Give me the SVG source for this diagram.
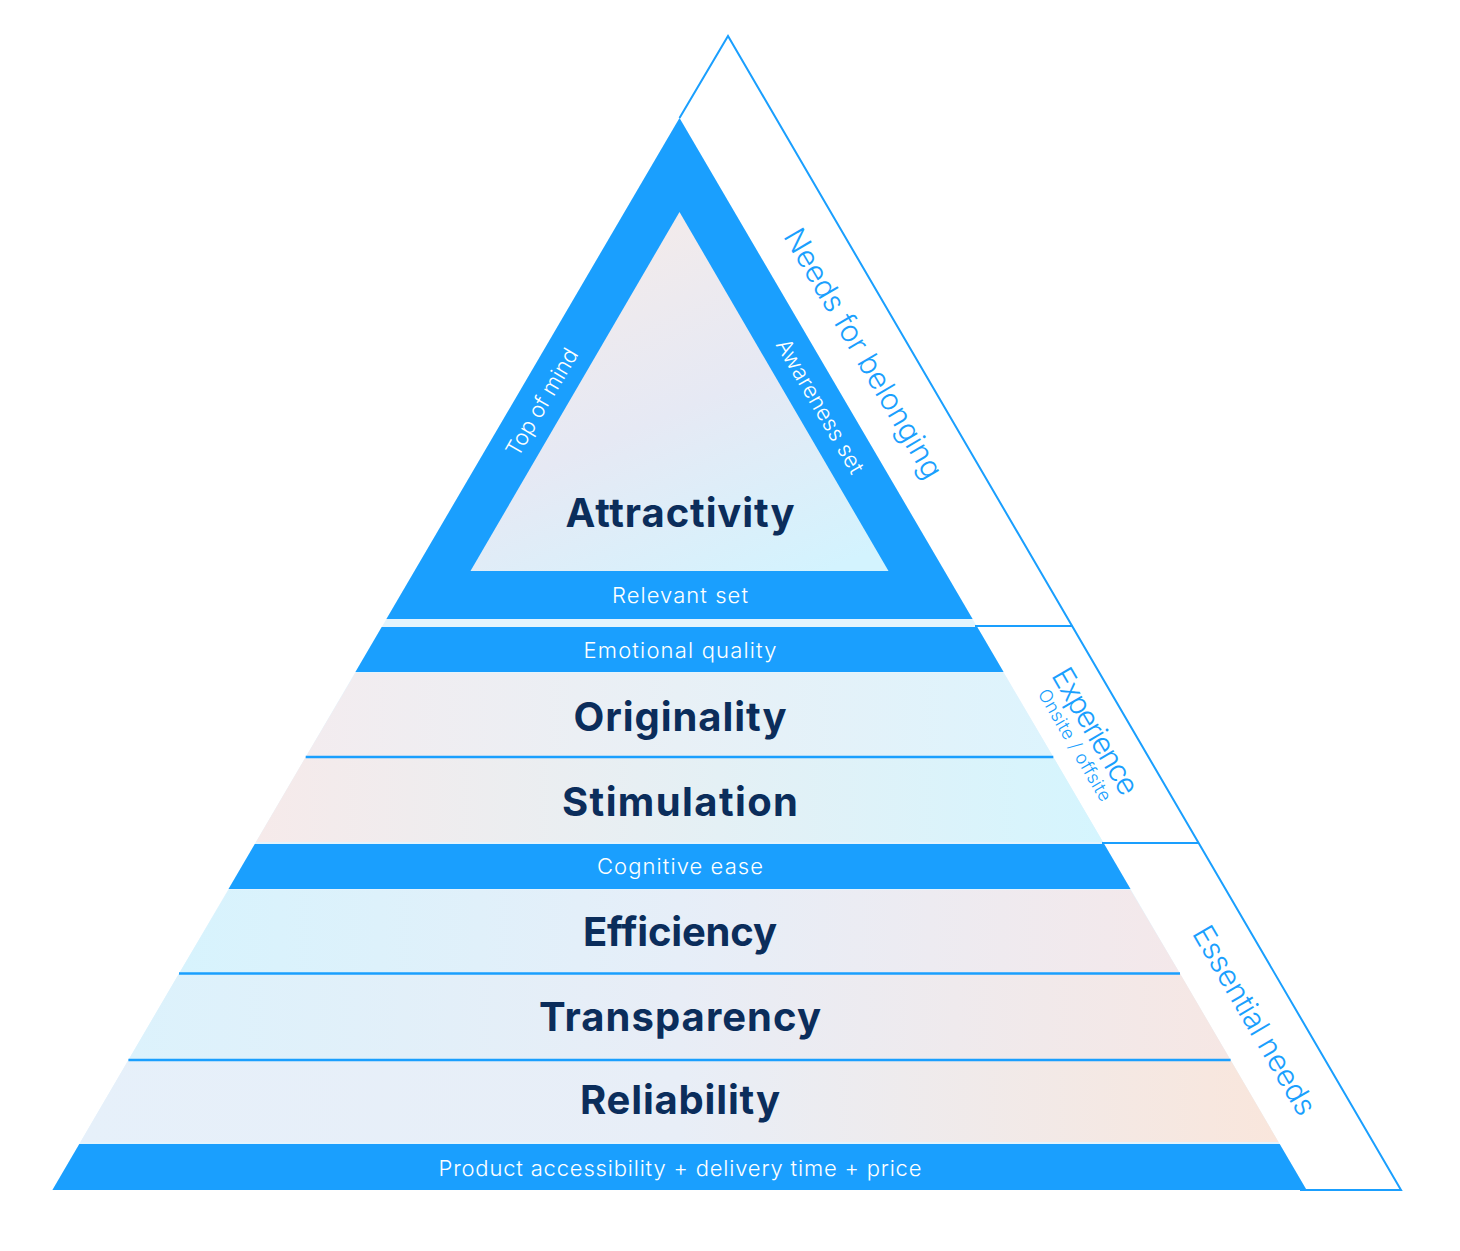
<svg xmlns="http://www.w3.org/2000/svg" width="1460" height="1251" viewBox="0 0 1460 1251">
  <defs>
    <style>
      .band { fill: #1a9ffe; }
      .sep { stroke: #1a9ffe; stroke-width: 2.5; fill: none; }
      .outline { stroke: #1a9ffe; stroke-width: 2; fill: none; stroke-linejoin: miter; }
      .title { font-family: Inter, "Noto Sans", "Liberation Sans", sans-serif; font-weight: 700; font-size: 40px; fill: #0b2d5b; text-anchor: middle; }
      .wlabel { font-family: Inter, "Noto Sans", "Liberation Sans", sans-serif; font-weight: 300; font-size: 22px; fill: #ffffff; text-anchor: middle; }
      .side { font-family: Inter, "Noto Sans", "Liberation Sans", sans-serif; font-weight: 300; font-size: 30px; fill: #1a9ffe; text-anchor: middle; dominant-baseline: central; }
      .sidesm { font-family: Inter, "Noto Sans", "Liberation Sans", sans-serif; font-weight: 300; font-size: 18px; fill: #1a9ffe; text-anchor: middle; dominant-baseline: central; }
      .rot { dominant-baseline: central; }
    </style>
    <linearGradient id="gInner" x1="0.35" y1="0" x2="0.85" y2="1">
      <stop offset="0" stop-color="#f4ebea"/>
      <stop offset="0.5" stop-color="#e6e9f4"/>
      <stop offset="1" stop-color="#d3f3fe"/>
    </linearGradient>
    <linearGradient id="gOrig" x1="0" y1="0" x2="1" y2="0">
      <stop offset="0" stop-color="#f3ecef"/>
      <stop offset="1" stop-color="#ddf4fd"/>
    </linearGradient>
    <linearGradient id="gStim" x1="0" y1="0" x2="1" y2="0">
      <stop offset="0" stop-color="#f6eaea"/>
      <stop offset="1" stop-color="#d5f5fe"/>
    </linearGradient>
    <linearGradient id="gEff" x1="0" y1="0" x2="1" y2="0">
      <stop offset="0" stop-color="#d7f3fd"/>
      <stop offset="0.5" stop-color="#e6eef8"/>
      <stop offset="1" stop-color="#f4e8ea"/>
    </linearGradient>
    <linearGradient id="gTrans" x1="0" y1="0" x2="1" y2="0">
      <stop offset="0" stop-color="#dcf2fc"/>
      <stop offset="0.5" stop-color="#e8edf6"/>
      <stop offset="1" stop-color="#f6e7e4"/>
    </linearGradient>
    <linearGradient id="gRel" x1="0" y1="0" x2="1" y2="0">
      <stop offset="0" stop-color="#e6f0fa"/>
      <stop offset="0.5" stop-color="#e8eef7"/>
      <stop offset="1" stop-color="#f9e6dc"/>
    </linearGradient>
  </defs>

  <rect x="0" y="0" width="1460" height="1251" fill="#ffffff"/>

  <!-- light base under the pyramid (shows as thin strips between layers) -->
  <polygon points="679.5,118 1306.6,1190 52.4,1190" fill="#e4f4fd"/>

  <g id="connectors">
    <path class="outline" d="M679.5 118 L728 36 L1401 1190 L1300 1190"/>
    <path class="outline" d="M975 626 H1072.4"/>
    <path class="outline" d="M1102 843 H1198.6"/>
  </g>

  <g id="attractivity">
    <polygon class="band" points="679.5,118 972.6,619 386.4,619"/>
    <polygon points="679.5,212 888.5,571 470.5,571" fill="url(#gInner)"/>
    <text class="title" x="680" y="527" textLength="229" lengthAdjust="spacing">Attractivity</text>
    <text class="wlabel" x="680" y="603" textLength="136" lengthAdjust="spacing">Relevant set</text>
    <text class="wlabel rot" transform="translate(541.5 402) rotate(-59.7)" textLength="121" lengthAdjust="spacing">Top of mind</text>
    <text class="wlabel rot" transform="translate(820.5 406) rotate(59.7)" textLength="152" lengthAdjust="spacing">Awareness set</text>
  </g>

  <g id="needs-for-belonging">
    <text class="side" transform="translate(864 353) rotate(59.7)" textLength="284" lengthAdjust="spacing">Needs for belonging</text>
  </g>

  <g id="emotional-quality">
    <polygon class="band" points="381.7,627 977.3,627 1003.6,672 355.4,672"/>
    <text class="wlabel" x="680" y="658" textLength="193" lengthAdjust="spacing">Emotional quality</text>
  </g>

  <g id="originality">
    <polygon points="355.4,673 1003.6,673 1053.3,757 305.7,757" fill="url(#gOrig)"/>
    <text class="title" x="680" y="731" textLength="213" lengthAdjust="spacing">Originality</text>
  </g>

  <g id="stimulation">
    <polygon points="305.7,757 1053.3,757 1103.0,842 256.0,842" fill="url(#gStim)"/>
    <text class="title" x="680" y="816" textLength="236" lengthAdjust="spacing">Stimulation</text>
  </g>

  <g id="experience">
    <text class="side" transform="translate(1096 731) rotate(59.7)" textLength="142" lengthAdjust="spacing">Experience</text>
    <text class="sidesm" transform="translate(1075 745) rotate(59.7)" textLength="127" lengthAdjust="spacing">Onsite / offsite</text>
  </g>

  <g id="cognitive-ease">
    <polygon class="band" points="254.8,844 1104.2,844 1130.5,889 228.5,889"/>
    <text class="wlabel" x="680" y="874" textLength="166" lengthAdjust="spacing">Cognitive ease</text>
  </g>

  <g id="efficiency">
    <polygon points="228.5,890 1130.5,890 1180.0,973.5 179.0,973.5" fill="url(#gEff)"/>
    <text class="title" x="680" y="946" textLength="194" lengthAdjust="spacing">Efficiency</text>
  </g>

  <g id="transparency">
    <polygon points="179.0,973.5 1180.0,973.5 1230.6,1060 128.4,1060" fill="url(#gTrans)"/>
    <text class="title" x="680" y="1031" textLength="282" lengthAdjust="spacing">Transparency</text>
  </g>

  <g id="reliability">
    <polygon points="128.4,1060 1230.6,1060 1278.5,1142 80.5,1142" fill="url(#gRel)"/>
    <text class="title" x="680" y="1114" textLength="200" lengthAdjust="spacing">Reliability</text>
  </g>

  <g id="product-accessibility">
    <polygon class="band" points="79.3,1144 1279.7,1144 1306.6,1190 52.4,1190"/>
    <text class="wlabel" x="680" y="1176" textLength="483" lengthAdjust="spacing">Product accessibility + delivery time + price</text>
  </g>

  <g id="essential-needs">
    <text class="side" transform="translate(1255 1020) rotate(59.7)" textLength="214" lengthAdjust="spacing">Essential needs</text>
  </g>

  <g id="separators">
    <path class="sep" d="M305.7 757 H1053.3"/>
    <path class="sep" d="M179 973.5 H1180"/>
    <path class="sep" d="M128.4 1060 H1230.6"/>
  </g>
</svg>
